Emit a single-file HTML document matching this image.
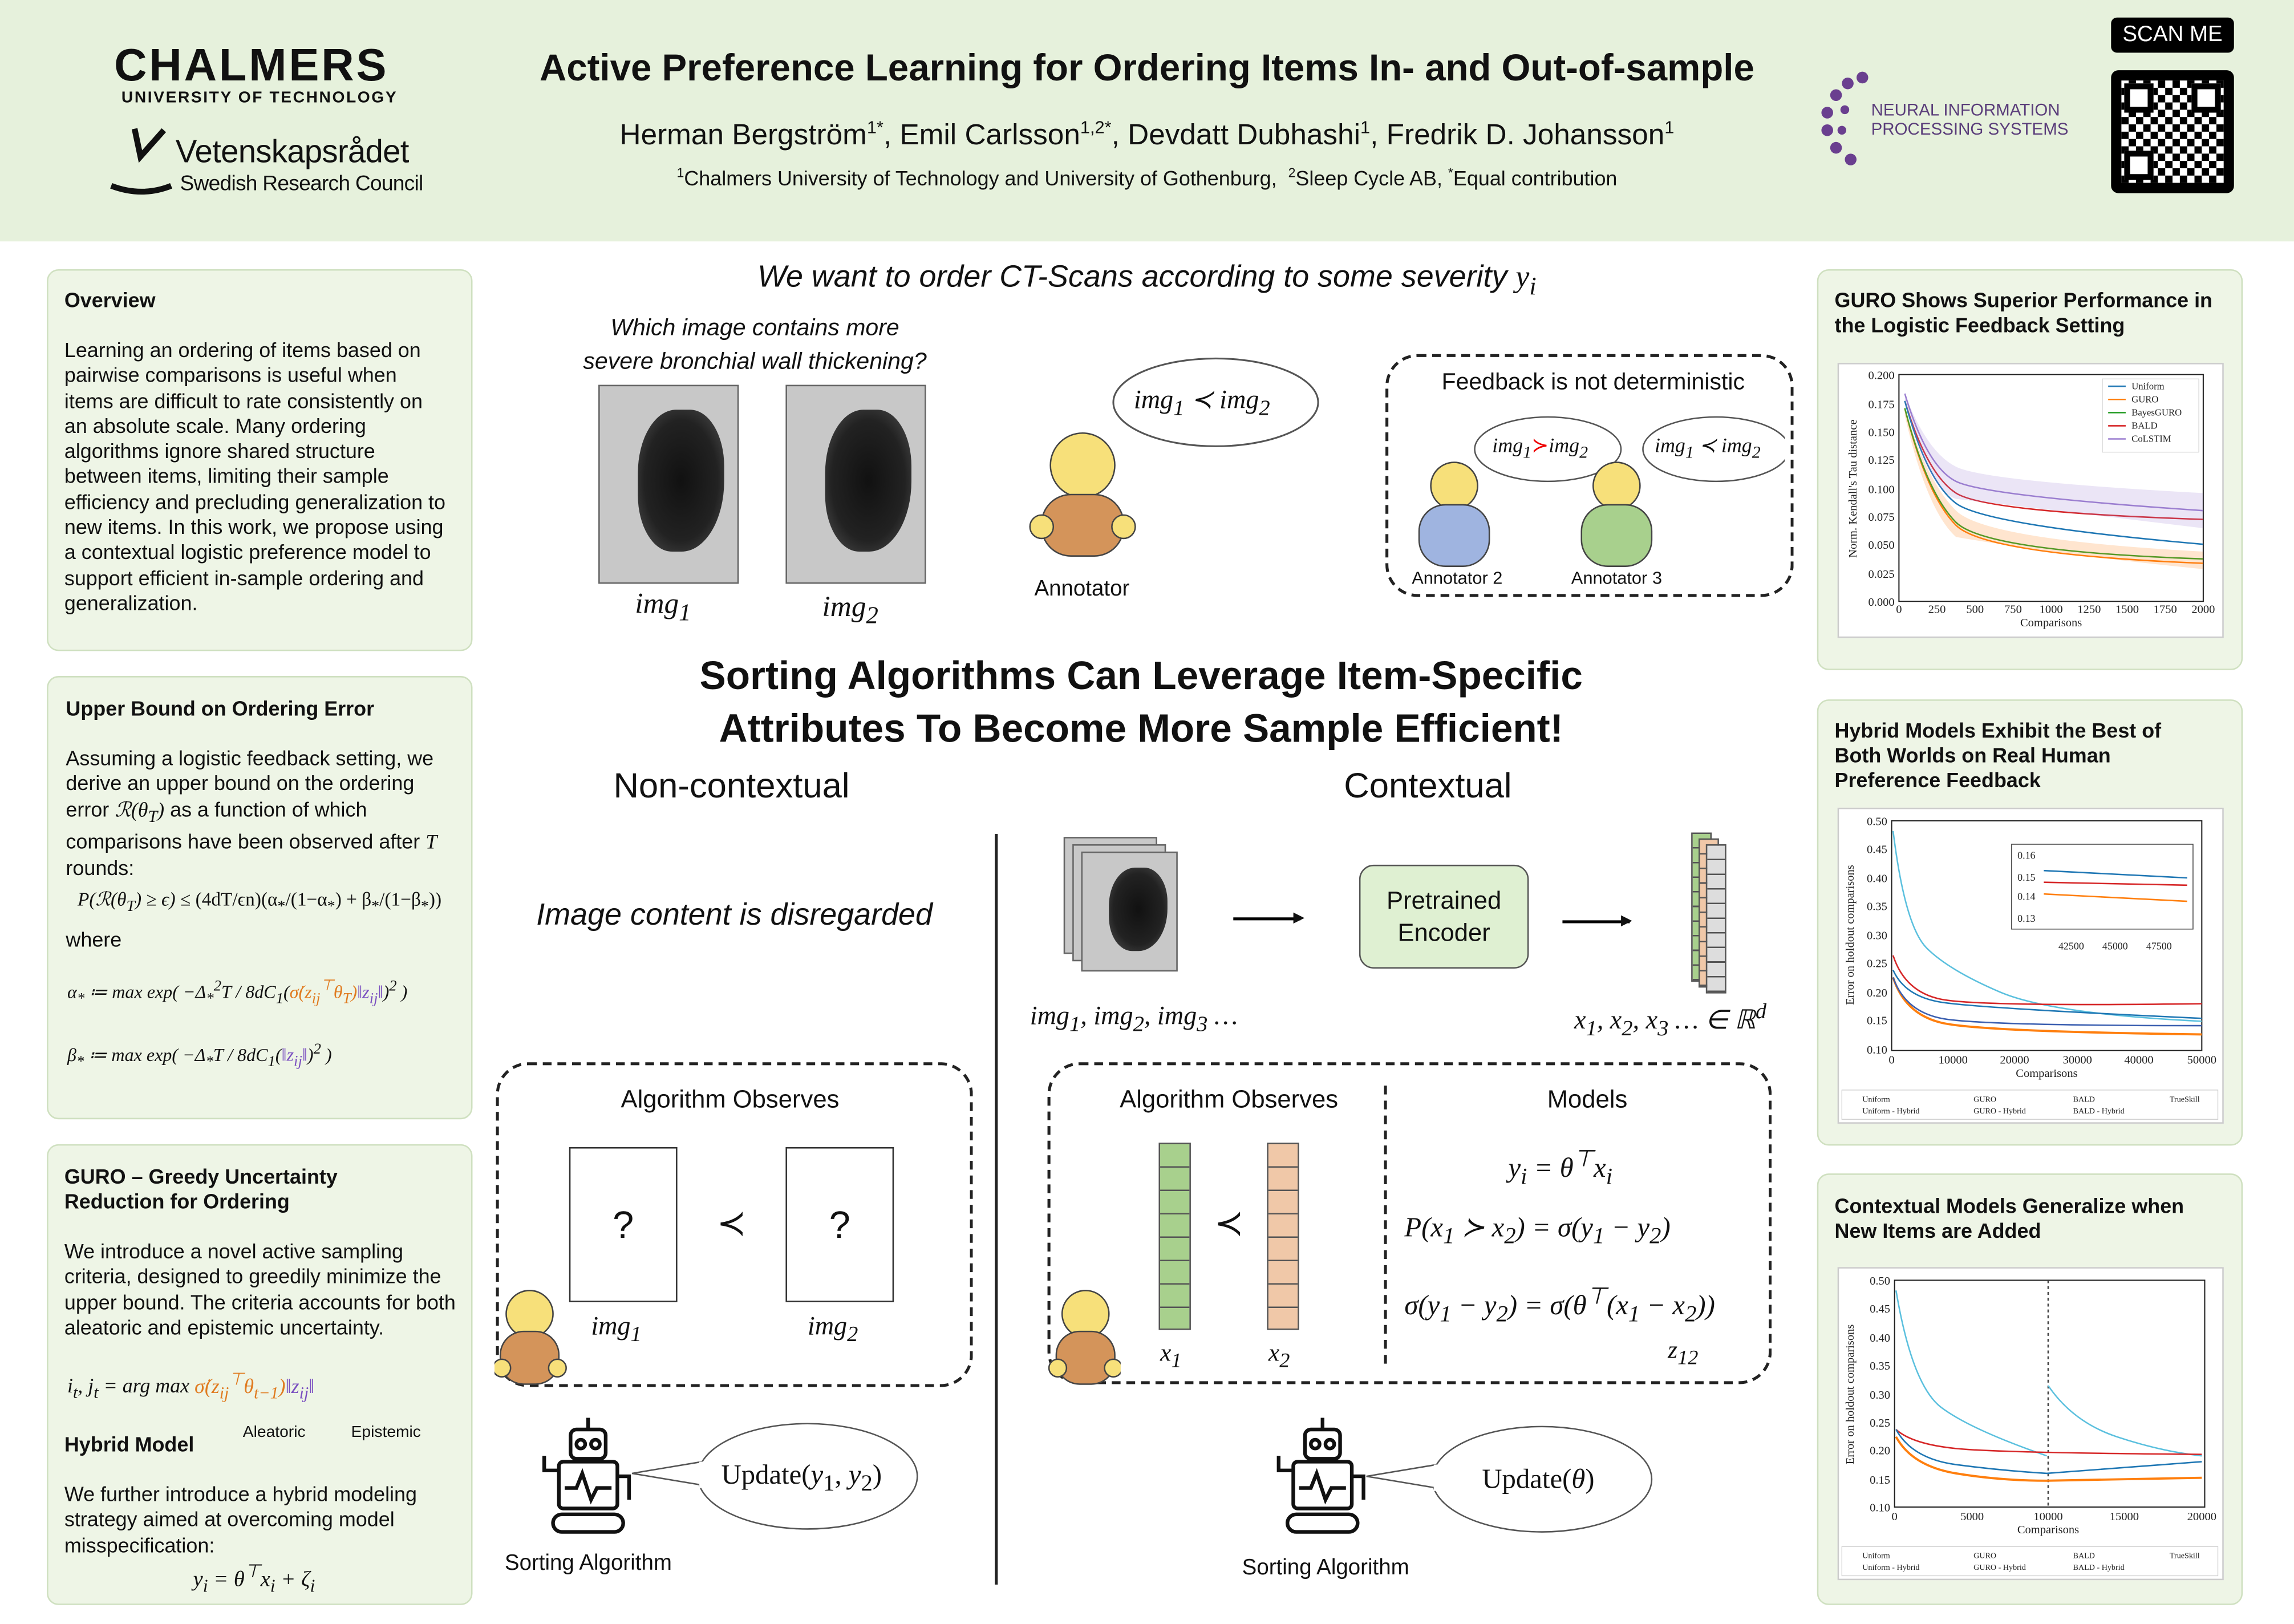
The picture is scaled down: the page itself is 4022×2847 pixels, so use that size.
<!DOCTYPE html>
<html><head><meta charset="utf-8">
<style>
html,body{margin:0;padding:0;background:#fff;}
body{width:4022px;height:2847px;overflow:hidden;position:relative;}
#w{position:absolute;left:0;top:0;width:1568px;height:1110px;transform:scale(2.565);transform-origin:0 0;font-family:"Liberation Sans",sans-serif;color:#111;}
.a{position:absolute;}
.panel{position:absolute;background:#eef5e6;border:1.5px solid #cfe0c0;border-radius:8px;box-sizing:border-box;}
.pt{font-weight:bold;font-size:14px;line-height:17px;}
.tx{font-size:14px;line-height:17.3px;}
.m{font-family:"Liberation Serif",serif;font-style:italic;}
.c{text-align:center;}
.dash{position:absolute;border:2px dashed #222;border-radius:22px;box-sizing:border-box;}
.ct{position:absolute;background:#c8c8c8;border:1px solid #666;overflow:hidden;}
.ct::after{content:"";position:absolute;left:28%;top:12%;width:62%;height:72%;border-radius:45% 40% 50% 40%;background:radial-gradient(ellipse,#111 0,#222 60%,#555 100%);}
</style></head><body><div id="w">
<!-- header -->
<div class="a" style="left:0;top:0;width:1568px;height:165px;background:#e6f1dc;"></div>
<div class="a" style="left:78px;top:27px;font-size:31px;font-weight:bold;letter-spacing:1.5px;">CHALMERS</div>
<div class="a" style="left:83px;top:61px;font-size:11px;font-weight:bold;letter-spacing:1px;">UNIVERSITY OF TECHNOLOGY</div>
<svg class="a" style="left:72px;top:85px" width="50" height="50"><path d="M20 3 L24 22 L40 4" stroke="#111" stroke-width="4" fill="none"/><path d="M4 42 Q25 50 45 42" stroke="#111" stroke-width="4" fill="none"/></svg>
<div class="a" style="left:120px;top:91px;font-size:22px;letter-spacing:-0.3px;">Vetenskapsrådet</div>
<div class="a" style="left:123px;top:118px;font-size:14.5px;letter-spacing:-0.3px;">Swedish Research Council</div>
<div class="a c" style="left:290px;top:33px;width:988px;font-size:25.5px;font-weight:bold;">Active Preference Learning for Ordering Items In- and Out-of-sample</div>
<div class="a c" style="left:300px;top:80px;width:968px;font-size:20px;">Herman Bergström<sup style="font-size:12px">1*</sup>, Emil Carlsson<sup style="font-size:12px">1,2*</sup>, Devdatt Dubhashi<sup style="font-size:12px">1</sup>, Fredrik D. Johansson<sup style="font-size:12px">1</sup></div>
<div class="a c" style="left:300px;top:113px;width:968px;font-size:14px;"><sup style="font-size:9px">1</sup>Chalmers University of Technology and University of Gothenburg, &nbsp;<sup style="font-size:9px">2</sup>Sleep Cycle AB, <sup style="font-size:9px">*</sup>Equal contribution</div>
<svg class="a" style="left:1243px;top:45px" width="40" height="75"><g fill="#6a3f8f"><circle cx="30" cy="8" r="4"/><circle cx="20" cy="12" r="4"/><circle cx="12" cy="20" r="4"/><circle cx="6" cy="32" r="4"/><circle cx="6" cy="44" r="4"/><circle cx="12" cy="56" r="4"/><circle cx="22" cy="64" r="4"/><circle cx="18" cy="30" r="3"/><circle cx="16" cy="44" r="3"/></g></svg>
<div class="a" style="left:1279px;top:70px;font-size:11.5px;color:#5a3d7a;line-height:13px;">NEURAL INFORMATION<br>PROCESSING SYSTEMS</div>
<div class="a c" style="left:1443px;top:12px;width:84px;height:24px;background:#000;color:#fff;font-size:15px;line-height:24px;border-radius:4px;">SCAN ME</div>
<div class="a" style="left:1443px;top:48px;width:84px;height:84px;background:#000;border-radius:5px;"></div>
<div class="a" style="left:1450px;top:55px;width:70px;height:70px;background:repeating-conic-gradient(#000 0 25%,#fff 0 50%) 0 0/10px 10px;"></div>
<div class="a" style="left:1452px;top:57px;width:20px;height:20px;border:4px solid #000;background:#fff;box-sizing:border-box;"></div>
<div class="a" style="left:1498px;top:57px;width:20px;height:20px;border:4px solid #000;background:#fff;box-sizing:border-box;"></div>
<div class="a" style="left:1452px;top:103px;width:20px;height:20px;border:4px solid #000;background:#fff;box-sizing:border-box;"></div>

<!-- left panels -->
<div class="panel" style="left:32px;top:184px;width:291px;height:261px;"></div>
<div class="a pt" style="left:44px;top:197px;">Overview</div>
<div class="a tx" style="left:44px;top:231px;width:262px;">Learning an ordering of items based on pairwise comparisons is useful when items are difficult to rate consistently on an absolute scale. Many ordering algorithms ignore shared structure between items, limiting their sample efficiency and precluding generalization to new items. In this work, we propose using a contextual logistic preference model to support efficient in-sample ordering and generalization.</div>

<div class="panel" style="left:32px;top:462px;width:291px;height:303px;"></div>
<div class="a pt" style="left:45px;top:476px;">Upper Bound on Ordering Error</div>
<div class="a tx" style="left:45px;top:510px;width:266px;">Assuming a logistic feedback setting, we derive an upper bound on the ordering error <span class="m">ℛ(θ<sub>T</sub>)</span> as a function of which comparisons have been observed after <span class="m">T</span> rounds:</div>
<div class="a m" style="left:53px;top:607px;font-size:13px;">P(ℛ(θ<sub>T</sub>) ≥ ϵ) ≤ <span style="font-style:normal">(4dT/ϵn)(α<sub>*</sub>/(1−α<sub>*</sub>) + β<sub>*</sub>/(1−β<sub>*</sub>))</span></div>
<div class="a tx" style="left:45px;top:634px;">where</div>
<div class="a m" style="left:46px;top:668px;font-size:12.5px;">α<sub>*</sub> ≔ max exp( −Δ<sub>*</sub><sup>2</sup>T / 8dC<sub>1</sub>(<span style="color:#e07b20">σ̇(z<sub>ij</sub><sup>⊤</sup>θ<sub>T</sub>)</span><span style="color:#7a4fc0">‖z<sub>ij</sub>‖</span>)<sup>2</sup> )</div>
<div class="a m" style="left:46px;top:712px;font-size:12.5px;">β<sub>*</sub> ≔ max exp( −Δ<sub>*</sub>T / 8dC<sub>1</sub>(<span style="color:#7a4fc0">‖z<sub>ij</sub>‖</span>)<sup>2</sup> )</div>

<div class="panel" style="left:32px;top:782px;width:291px;height:315px;"></div>
<div class="a pt" style="left:44px;top:796px;width:210px;">GURO – Greedy Uncertainty Reduction for Ordering</div>
<div class="a tx" style="left:44px;top:847px;width:272px;">We introduce a novel active sampling criteria, designed to greedily minimize the upper bound. The criteria accounts for both aleatoric and epistemic uncertainty.</div>
<div class="a m" style="left:46px;top:935px;font-size:14px;">i<sub>t</sub>, j<sub>t</sub> = arg max <span style="color:#e07b20">σ̇(z<sub>ij</sub><sup>⊤</sup>θ<sub>t−1</sub>)</span><span style="color:#7a4fc0">‖z<sub>ij</sub>‖</span></div>
<div class="a" style="left:166px;top:973px;font-size:11px;">Aleatoric</div>
<div class="a" style="left:240px;top:973px;font-size:11px;">Epistemic</div>
<div class="a pt" style="left:44px;top:979px;">Hybrid Model</div>
<div class="a tx" style="left:44px;top:1013px;width:272px;">We further introduce a hybrid modeling strategy aimed at overcoming model misspecification:</div>
<div class="a m" style="left:132px;top:1066px;font-size:15px;">y<sub>i</sub> = θ<sup>⊤</sup>x<sub>i</sub> + ζ<sub>i</sub></div>

<!-- center top -->
<div class="a c m" style="left:400px;top:177px;width:768px;font-size:21px;font-family:'Liberation Sans',sans-serif;">We want to order CT-Scans according to some severity <span style="font-family:'Liberation Serif',serif">y<sub>i</sub></span></div>
<div class="a c" style="left:366px;top:213px;width:300px;font-size:16px;font-style:italic;line-height:23px;">Which image contains more<br>severe bronchial wall thickening?</div>
<div class="ct" style="left:409px;top:263px;width:94px;height:134px;"></div>
<div class="ct" style="left:537px;top:263px;width:94px;height:134px;"></div>
<div class="a m" style="left:434px;top:402px;font-size:20px;">img<sub>1</sub></div>
<div class="a m" style="left:562px;top:404px;font-size:20px;">img<sub>2</sub></div>
<svg class="a" style="left:700px;top:240px" width="210" height="150">
<ellipse cx="131" cy="35" rx="70" ry="30" fill="#fff" stroke="#555" stroke-width="1.2"/>
<circle cx="40" cy="78" r="22" fill="#f7e07a" stroke="#444"/><rect x="12" y="98" width="56" height="42" rx="20" fill="#d4945a" stroke="#444"/>
<circle cx="12" cy="120" r="8" fill="#f7e07a" stroke="#444"/><circle cx="68" cy="120" r="8" fill="#f7e07a" stroke="#444"/></svg>
<div class="a m" style="left:775px;top:263px;font-size:18px;">img<sub>1</sub> ≺ img<sub>2</sub></div>
<div class="a" style="left:707px;top:394px;font-size:15px;">Annotator</div>
<div class="dash" style="left:947px;top:242px;width:279px;height:166px;"></div>
<div class="a c" style="left:947px;top:253px;width:284px;font-size:16px;">Feedback is not deterministic</div>
<svg class="a" style="left:960px;top:280px" width="260" height="110">
<ellipse cx="98" cy="27" rx="50" ry="22" fill="#fff" stroke="#555"/><ellipse cx="213" cy="27" rx="50" ry="22" fill="#fff" stroke="#555"/>
<circle cx="34" cy="52" r="16" fill="#f7e07a" stroke="#444"/><rect x="10" y="65" width="48" height="42" rx="18" fill="#9fb4e0" stroke="#444"/>
<circle cx="145" cy="52" r="16" fill="#f7e07a" stroke="#444"/><rect x="121" y="65" width="48" height="42" rx="18" fill="#a8d08d" stroke="#444"/></svg>
<div class="a m" style="left:1020px;top:297px;font-size:14px;">img<sub>1</sub><span style="color:#e00;font-style:normal">≻</span>img<sub>2</sub></div>
<div class="a m" style="left:1131px;top:297px;font-size:14px;">img<sub>1</sub> ≺ img<sub>2</sub></div>
<div class="a" style="left:965px;top:388px;font-size:12px;">Annotator 2</div>
<div class="a" style="left:1074px;top:388px;font-size:12px;">Annotator 3</div>

<div class="a c" style="left:380px;top:444px;width:800px;font-size:27px;font-weight:bold;line-height:36px;">Sorting Algorithms Can Leverage Item-Specific<br>Attributes To Become More Sample Efficient!</div>
<div class="a c" style="left:380px;top:524px;width:240px;font-size:24px;">Non-contextual</div>
<div class="a c" style="left:856px;top:524px;width:240px;font-size:24px;">Contextual</div>
<div class="a" style="left:680px;top:570px;width:2px;height:513px;background:#222;"></div>
<div class="a c" style="left:340px;top:614px;width:324px;font-size:21px;font-style:italic;">Image content is disregarded</div>

<!-- contextual pipeline -->
<div class="ct" style="left:727px;top:572px;width:62px;height:78px;"></div>
<div class="ct" style="left:733px;top:577px;width:62px;height:78px;"></div>
<div class="ct" style="left:739px;top:582px;width:64px;height:80px;"></div>
<div class="a" style="left:843px;top:627px;width:46px;height:2px;background:#000;"></div><div class="a" style="left:884px;top:622px;font-size:10px;">▶</div>
<div class="a c" style="left:929px;top:591px;width:116px;height:71px;background:#dff0d2;border:1.5px solid #555;border-radius:10px;box-sizing:border-box;font-size:17px;line-height:22px;padding-top:13px;">Pretrained<br>Encoder</div>
<div class="a" style="left:1068px;top:629px;width:46px;height:2px;background:#000;"></div><div class="a" style="left:1108px;top:624px;font-size:10px;">▶</div>
<div class="a" style="left:1156px;top:569px;width:12px;height:100px;background:repeating-linear-gradient(#a8d08d 0 9px,#555 9px 10px);border:1px solid #555;"></div>
<div class="a" style="left:1161px;top:573px;width:12px;height:100px;background:repeating-linear-gradient(#f0c8a8 0 9px,#555 9px 10px);border:1px solid #555;"></div>
<div class="a" style="left:1166px;top:577px;width:12px;height:100px;background:repeating-linear-gradient(#ddd 0 9px,#555 9px 10px);border:1px solid #555;"></div>
<div class="a m" style="left:704px;top:684px;font-size:18px;">img<sub>1</sub>, img<sub>2</sub>, img<sub>3</sub> …</div>
<div class="a m" style="left:1076px;top:684px;font-size:18px;">x<sub>1</sub>, x<sub>2</sub>, x<sub>3</sub> … ∈ ℝ<sup>d</sup></div>

<!-- non-contextual box -->
<div class="dash" style="left:339px;top:726px;width:326px;height:222px;"></div>
<div class="a c" style="left:339px;top:742px;width:320px;font-size:17px;">Algorithm Observes</div>
<div class="a c" style="left:389px;top:784px;width:72px;height:104px;border:1px solid #333;background:#fff;font-size:26px;line-height:104px;">?</div>
<div class="a c" style="left:537px;top:784px;width:72px;height:104px;border:1px solid #333;background:#fff;font-size:26px;line-height:104px;">?</div>
<div class="a" style="left:490px;top:822px;font-size:24px;">≺</div>
<div class="a m" style="left:404px;top:896px;font-size:18px;">img<sub>1</sub></div>
<div class="a m" style="left:552px;top:896px;font-size:18px;">img<sub>2</sub></div>
<svg class="a" style="left:338px;top:880px" width="50" height="68"><circle cx="24" cy="18" r="16" fill="#f7e07a" stroke="#444"/><rect x="4" y="30" width="40" height="36" rx="16" fill="#d4945a" stroke="#444"/><circle cx="5" cy="55" r="6" fill="#f7e07a" stroke="#444"/><circle cx="43" cy="55" r="6" fill="#f7e07a" stroke="#444"/></svg>

<!-- contextual box -->
<div class="dash" style="left:716px;top:726px;width:495px;height:220px;"></div>
<div class="a" style="left:946px;top:742px;width:2px;height:190px;border-left:2px dashed #222;"></div>
<div class="a c" style="left:740px;top:742px;width:200px;font-size:17px;">Algorithm Observes</div>
<div class="a c" style="left:1000px;top:742px;width:170px;font-size:17px;">Models</div>
<div class="a" style="left:792px;top:781px;width:20px;height:126px;background:repeating-linear-gradient(#a8d08d 0 15px,#555 15px 16px);border:1px solid #555;"></div>
<div class="a" style="left:866px;top:781px;width:20px;height:126px;background:repeating-linear-gradient(#f0c8a8 0 15px,#555 15px 16px);border:1px solid #555;"></div>
<div class="a" style="left:830px;top:822px;font-size:24px;">≺</div>
<div class="a m" style="left:793px;top:915px;font-size:17px;">x<sub>1</sub></div>
<div class="a m" style="left:867px;top:915px;font-size:17px;">x<sub>2</sub></div>
<div class="a m" style="left:1031px;top:782px;font-size:19px;">y<sub>i</sub> = θ<sup>⊤</sup>x<sub>i</sub></div>
<div class="a m" style="left:960px;top:828px;font-size:19px;">P(x<sub>1</sub> ≻ x<sub>2</sub>) = σ(y<sub>1</sub> − y<sub>2</sub>)</div>
<div class="a m" style="left:960px;top:876px;font-size:19px;">σ(y<sub>1</sub> − y<sub>2</sub>) = σ(θ<sup>⊤</sup>(x<sub>1</sub> − x<sub>2</sub>))</div>
<div class="a m" style="left:1140px;top:913px;font-size:17px;">z<sub>12</sub></div>
<svg class="a" style="left:716px;top:880px" width="50" height="68"><circle cx="26" cy="18" r="16" fill="#f7e07a" stroke="#444"/><rect x="6" y="30" width="40" height="36" rx="16" fill="#d4945a" stroke="#444"/><circle cx="7" cy="55" r="6" fill="#f7e07a" stroke="#444"/><circle cx="45" cy="55" r="6" fill="#f7e07a" stroke="#444"/></svg>

<!-- robots -->
<svg class="a" style="left:360px;top:965px" width="290" height="90">
<ellipse cx="192" cy="44" rx="75" ry="36" fill="#fff" stroke="#555"/>
<path d="M72 42 L120 34 L120 50 Z" fill="#fff" stroke="#555"/><rect x="118" y="34" width="6" height="18" fill="#fff"/>
<g stroke="#111" stroke-width="2.5" fill="none"><rect x="30" y="12" width="24" height="20" rx="4"/><circle cx="37" cy="22" r="3"/><circle cx="47" cy="22" r="3"/><line x1="42" y1="4" x2="42" y2="12"/><rect x="22" y="34" width="40" height="32" rx="3"/><path d="M26 52 L34 52 L38 42 L44 60 L48 52 L58 52"/><rect x="18" y="70" width="48" height="12" rx="6"/><path d="M22 40 L12 40 L12 30"/><path d="M62 44 L70 44 L70 60"/></g></svg>
<div class="a m" style="left:493px;top:998px;font-size:19px;font-style:normal;">Update(<i>y</i><sub>1</sub>, <i>y</i><sub>2</sub>)</div>
<div class="a" style="left:345px;top:1060px;font-size:15px;">Sorting Algorithm</div>
<svg class="a" style="left:862px;top:965px" width="290" height="90">
<ellipse cx="192" cy="46" rx="75" ry="36" fill="#fff" stroke="#555"/>
<path d="M72 44 L120 36 L120 52 Z" fill="#fff" stroke="#555"/><rect x="118" y="36" width="6" height="18" fill="#fff"/>
<g stroke="#111" stroke-width="2.5" fill="none"><rect x="30" y="12" width="24" height="20" rx="4"/><circle cx="37" cy="22" r="3"/><circle cx="47" cy="22" r="3"/><line x1="42" y1="4" x2="42" y2="12"/><rect x="22" y="34" width="40" height="32" rx="3"/><path d="M26 52 L34 52 L38 42 L44 60 L48 52 L58 52"/><rect x="18" y="70" width="48" height="12" rx="6"/><path d="M22 40 L12 40 L12 30"/><path d="M62 44 L70 44 L70 60"/></g></svg>
<div class="a m" style="left:1013px;top:1001px;font-size:19px;font-style:normal;">Update(<i>θ</i>)</div>
<div class="a" style="left:849px;top:1063px;font-size:15px;">Sorting Algorithm</div>

<!-- right panels -->
<div class="panel" style="left:1242px;top:184px;width:291px;height:274px;"></div>
<div class="a pt" style="left:1254px;top:197px;width:275px;">GURO Shows Superior Performance in the Logistic Feedback Setting</div>
<svg class="a" style="left:1256px;top:248px;background:#fff;border:1px solid #ccc" width="262" height="186" font-family="Liberation Serif" font-size="8">
<rect x="41" y="7" width="208" height="155" fill="none" stroke="#222" stroke-width="0.8"/>
<g fill="#222" text-anchor="end"><text x="38" y="10">0.200</text><text x="38" y="30">0.175</text><text x="38" y="49">0.150</text><text x="38" y="68">0.125</text><text x="38" y="88">0.100</text><text x="38" y="107">0.075</text><text x="38" y="126">0.050</text><text x="38" y="146">0.025</text><text x="38" y="165">0.000</text></g>
<g fill="#222" text-anchor="middle"><text x="41" y="170">0</text><text x="67" y="170">250</text><text x="93" y="170">500</text><text x="119" y="170">750</text><text x="145" y="170">1000</text><text x="171" y="170">1250</text><text x="197" y="170">1500</text><text x="223" y="170">1750</text><text x="249" y="170">2000</text><text x="145" y="179">Comparisons</text></g>
<text x="12" y="85" transform="rotate(-90 12 85)" text-anchor="middle" fill="#222">Norm. Kendall's Tau distance</text>
<path d="M45 20 Q60 70 80 80 T249 100" fill="none" stroke="#9b7fd0" stroke-width="1"/>
<path d="M45 25 Q60 75 80 88 T249 106" fill="none" stroke="#d62728" stroke-width="1"/>
<path d="M45 25 Q60 80 80 95 T249 123" fill="none" stroke="#1f77b4" stroke-width="1"/>
<path d="M45 30 Q60 90 80 110 T249 136" fill="none" stroke="#ff7f0e" stroke-width="1"/>
<path d="M45 30 Q60 88 80 108 T249 133" fill="none" stroke="#2ca02c" stroke-width="1"/>
<path d="M45 20 Q60 60 80 70 T249 88 L249 112 Q150 100 80 92 Q60 85 45 25Z" fill="#9b7fd0" opacity="0.2"/>
<path d="M45 30 Q60 80 80 100 T249 128 L249 140 Q150 130 80 118 Q60 100 45 35Z" fill="#ff7f0e" opacity="0.2"/>
<rect x="180" y="10" width="66" height="50" fill="#fff" stroke="#ccc" stroke-width="0.5"/>
<g font-size="6.5" fill="#222"><text x="200" y="17">Uniform</text><text x="200" y="26">GURO</text><text x="200" y="35">BayesGURO</text><text x="200" y="44">BALD</text><text x="200" y="53">CoLSTIM</text></g>
<g stroke-width="1"><line x1="184" y1="15" x2="196" y2="15" stroke="#1f77b4"/><line x1="184" y1="24" x2="196" y2="24" stroke="#ff7f0e"/><line x1="184" y1="33" x2="196" y2="33" stroke="#2ca02c"/><line x1="184" y1="42" x2="196" y2="42" stroke="#d62728"/><line x1="184" y1="51" x2="196" y2="51" stroke="#9b7fd0"/></g>
</svg>

<div class="panel" style="left:1242px;top:478px;width:291px;height:305px;"></div>
<div class="a pt" style="left:1254px;top:491px;width:240px;">Hybrid Models Exhibit the Best of Both Worlds on Real Human Preference Feedback</div>
<svg class="a" style="left:1256px;top:552px;background:#fff;border:1px solid #ccc" width="262" height="214" font-family="Liberation Serif" font-size="8">
<rect x="36" y="8" width="212" height="157" fill="none" stroke="#222" stroke-width="0.8"/>
<g fill="#222" text-anchor="end"><text x="33" y="11">0.50</text><text x="33" y="30">0.45</text><text x="33" y="50">0.40</text><text x="33" y="69">0.35</text><text x="33" y="89">0.30</text><text x="33" y="108">0.25</text><text x="33" y="128">0.20</text><text x="33" y="147">0.15</text><text x="33" y="167">0.10</text></g>
<g fill="#222" text-anchor="middle"><text x="36" y="174">0</text><text x="78" y="174">10000</text><text x="120" y="174">20000</text><text x="163" y="174">30000</text><text x="205" y="174">40000</text><text x="248" y="174">50000</text><text x="142" y="183">Comparisons</text></g>
<text x="10" y="86" transform="rotate(-90 10 86)" text-anchor="middle" fill="#222">Error on holdout comparisons</text>
<path d="M37 15 Q45 80 60 95 T110 125 T248 145" fill="none" stroke="#5bc0de" stroke-width="1"/>
<path d="M37 100 Q45 125 70 130 T248 133" fill="none" stroke="#d62728" stroke-width="1"/>
<path d="M37 110 Q45 128 70 132 T248 143" fill="none" stroke="#1f77b4" stroke-width="1"/>
<path d="M37 115 Q45 140 70 146 T248 154" fill="none" stroke="#ff7f0e" stroke-width="1.5"/>
<path d="M37 115 Q45 138 70 143 T248 148" fill="none" stroke="#3b5fb0" stroke-width="1"/>
<rect x="118" y="24" width="124" height="58" fill="#fff" stroke="#444" stroke-width="0.6"/>
<g fill="#222" font-size="7"><text x="122" y="34">0.16</text><text x="122" y="49">0.15</text><text x="122" y="62">0.14</text><text x="122" y="77">0.13</text><text x="150" y="96">42500</text><text x="180" y="96">45000</text><text x="210" y="96">47500</text></g>
<line x1="140" y1="42" x2="238" y2="47" stroke="#1f77b4"/><line x1="140" y1="50" x2="238" y2="52" stroke="#d62728"/><line x1="140" y1="58" x2="238" y2="63" stroke="#ff7f0e"/>
<rect x="2" y="192" width="257" height="20" fill="#fff" stroke="#ccc" stroke-width="0.5"/>
<g font-size="5.5" fill="#222"><text x="16" y="200">Uniform</text><text x="16" y="208">Uniform - Hybrid</text><text x="92" y="200">GURO</text><text x="92" y="208">GURO - Hybrid</text><text x="160" y="200">BALD</text><text x="160" y="208">BALD - Hybrid</text><text x="226" y="200">TrueSkill</text></g>
</svg>

<div class="panel" style="left:1242px;top:802px;width:291px;height:295px;"></div>
<div class="a pt" style="left:1254px;top:816px;width:270px;">Contextual Models Generalize when New Items are Added</div>
<svg class="a" style="left:1256px;top:866px;background:#fff;border:1px solid #ccc" width="262" height="212" font-family="Liberation Serif" font-size="8">
<rect x="38" y="8" width="212" height="155" fill="none" stroke="#222" stroke-width="0.8"/>
<line x1="143" y1="8" x2="143" y2="163" stroke="#444" stroke-dasharray="2,2"/>
<g fill="#222" text-anchor="end"><text x="35" y="11">0.50</text><text x="35" y="30">0.45</text><text x="35" y="50">0.40</text><text x="35" y="69">0.35</text><text x="35" y="89">0.30</text><text x="35" y="108">0.25</text><text x="35" y="127">0.20</text><text x="35" y="147">0.15</text><text x="35" y="166">0.10</text></g>
<g fill="#222" text-anchor="middle"><text x="38" y="172">0</text><text x="91" y="172">5000</text><text x="143" y="172">10000</text><text x="195" y="172">15000</text><text x="248" y="172">20000</text><text x="143" y="181">Comparisons</text></g>
<text x="10" y="86" transform="rotate(-90 10 86)" text-anchor="middle" fill="#222">Error on holdout comparisons</text>
<path d="M39 15 Q50 80 70 95 T142 128 M143 80 Q160 105 190 115 T248 128" fill="none" stroke="#5bc0de" stroke-width="1"/>
<path d="M39 110 Q50 120 80 123 T248 127" fill="none" stroke="#d62728" stroke-width="1"/>
<path d="M39 110 Q50 130 80 134 T142 140 L248 132" fill="none" stroke="#1f77b4" stroke-width="1"/>
<path d="M39 115 Q50 135 80 140 T142 145 L248 143" fill="none" stroke="#ff7f0e" stroke-width="1.5"/>
<rect x="2" y="190" width="257" height="20" fill="#fff" stroke="#ccc" stroke-width="0.5"/>
<g font-size="5.5" fill="#222"><text x="16" y="198">Uniform</text><text x="16" y="206">Uniform - Hybrid</text><text x="92" y="198">GURO</text><text x="92" y="206">GURO - Hybrid</text><text x="160" y="198">BALD</text><text x="160" y="206">BALD - Hybrid</text><text x="226" y="198">TrueSkill</text></g>
</svg>
</div></body></html>
